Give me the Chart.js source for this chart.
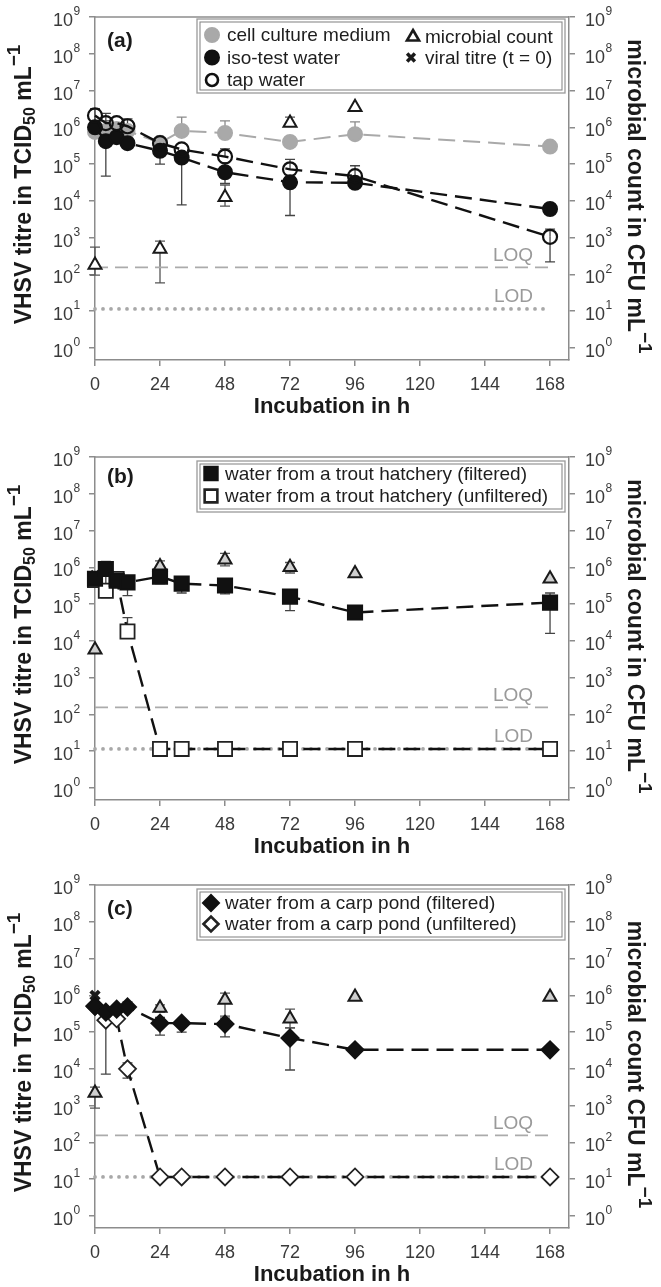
<!DOCTYPE html>
<html>
<head>
<meta charset="utf-8">
<script src="https://cdn.jsdelivr.net/npm/chart.js@4.4.1/dist/chart.umd.min.js"></script>
<style>
html,body{margin:0;padding:0;background:#fff;overflow:hidden;}
#wrap{position:relative;width:661px;height:1287px;}
canvas{position:absolute;left:0;}
</style>
</head>
<body>
<div id="wrap">
<canvas id="pa" width="661" height="430" style="top:0px"></canvas>
<canvas id="pb" width="661" height="430" style="top:440px"></canvas>
<canvas id="pc" width="661" height="419" style="top:868px"></canvas>
</div>
<script>
// ---------- shared data ----------
const hours = [0, 4, 8, 12, 24, 32, 48, 72, 96, 168];
const xTickValues = [0, 24, 48, 72, 96, 120, 144, 168];
const yTickValues = [1, 10, 100, 1e3, 1e4, 1e5, 1e6, 1e7, 1e8, 1e9];
const yTickExponents = ['0','1','2','3','4','5','6','7','8','9'];
const limitHours = [0, 168];
const loqLevel = 155;
const lodLevel = 11.5;
const viralHours = [0];

// ---------- panel (a) ----------
const cellCultureMedium = [7.5e5, 8e5, 9e5, 8e5, 3.8e5, 8e5, 7e5, 4e5, 6.5e5, 3e5];
const cellCultureHi     = [null, null, null, null, null, 1.9e6, 1.5e6, null, 1.4e6, null];
const cellCultureLo     = [null, null, null, null, null, null, null, null, null, null];
const isoTestWater      = [1.0e6, 4.2e5, 5.4e5, 3.7e5, 2.3e5, 1.5e5, 6e4, 3.2e4, 3.1e4, 6e3];
const isoTestHi         = [null, 1.5e6, null, null, 4e5, null, 1.1e5, null, null, null];
const isoTestLo         = [null, 4.7e4, null, null, 1e5, 7.8e3, 3e4, 4e3, null, null];
const tapWater          = [2.1e6, 1.3e6, 1.3e6, 1.07e6, 3.7e5, 2.5e5, 1.6e5, 7.2e4, 4.7e4, 1.05e3];
const tapWaterHi        = [3.2e6, 2.4e6, null, 1.7e6, null, null, 2.6e5, 1.35e5, 9e4, 1.7e3];
const tapWaterLo        = [1.2e6, null, null, null, null, null, null, null, null, 2.2e2];
const microbialHoursA   = [0, 24, 48, 72, 96];
const microbialA        = [180, 490, 1.26e4, 1.3e6, 3.5e6];
const microbialAHi      = [550, 800, 2.7e4, 1.9e6, null];
const microbialALo      = [95, 59, 7.2e3, null, null];
const viralA            = [1.0e6];

// ---------- panel (b) ----------
const troutFiltered     = [4.9e5, 9e5, 4.3e5, 3.9e5, 5.6e5, 3.6e5, 3.2e5, 1.6e5, 5.9e4, 1.1e5];
const troutFilteredHi   = [null, 1.45e6, null, null, 8e5, null, null, 2.3e5, null, 2e5];
const troutFilteredLo   = [null, null, null, 1.7e5, 3.6e5, 2e5, 1.9e5, 6.6e4, null, 1.6e4];
const troutUnfiltered   = [4.5e5, 2.3e5, 4.8e5, 1.8e4, 11.5, 11.5, 11.5, 11.5, 11.5, 11.5];
const troutUnfilteredHi = [null, 1.3e6, null, 4.3e4, null, null, null, null, null, null];
const troutUnfilteredLo = [null, 1.5e5, null, null, null, null, null, null, null, null];
const microbialHoursB   = [0, 24, 48, 72, 96, 168];
const microbialB        = [5.7e3, 1.05e6, 1.6e6, 1e6, 6.8e5, 4.9e5];
const microbialBHi      = [null, 1.5e6, 2.4e6, 1.35e6, null, null];
const microbialBLo      = [null, 7e5, 1.1e6, 7e5, null, null];
const viralB            = [6e5];

// ---------- panel (c) ----------
const carpFiltered      = [5.1e5, 3.5e5, 4.2e5, 4.8e5, 1.75e5, 1.75e5, 1.65e5, 6.9e4, 3.3e4, 3.3e4];
const carpFilteredHi    = [null, null, null, 6.6e5, 2.5e5, null, 2.4e5, 1.3e5, null, null];
const carpFilteredLo    = [null, null, null, null, 8.3e4, 1e5, 7.4e4, 9.3e3, null, null];
const carpUnfiltered    = [5e5, 2.1e5, 2.3e5, 1e4, 11.5, 11.5, 11.5, 11.5, 11.5, 11.5];
const carpUnfilteredHi  = [null, 3.5e5, null, 1.45e4, null, null, null, null, null, null];
const carpUnfilteredLo  = [null, 7.2e3, null, 5.6e3, null, null, null, null, null, null];
const microbialHoursC   = [0, 24, 48, 72, 96, 168];
const microbialC        = [2.2e3, 4.5e5, 7.4e5, 2.3e5, 9e5, 9e5];
const microbialCHi      = [3.2e3, 5.5e5, 1.15e6, 4.2e5, null, null];
const microbialCLo      = [850, 3.5e5, 2.7e5, 1.3e5, null, null];
const viralC            = [1.0e6];

// ---------- helpers ----------
const FONT = '"Liberation Sans", Arial, Helvetica, sans-serif';
Chart.defaults.font.family = FONT;
const AXIS_GRAY = '#8c8c8c';
const Y_MIN = 0.47, Y_MAX = 1e9, X_MIN = 0, X_MAX = 175;

function pts(xs, ys) { return xs.map((x, i) => ({x: x, y: ys[i]})); }

function drawRich(ctx, segs, cx, cy, rot, color) {
  ctx.save();
  ctx.translate(cx, cy);
  ctx.rotate(rot);
  ctx.fillStyle = color;
  let total = 0;
  segs.forEach(s => { ctx.font = s.font; s.w = ctx.measureText(s.t).width; total += s.w; });
  let x = -total / 2;
  ctx.textBaseline = 'middle';
  ctx.textAlign = 'left';
  segs.forEach(s => { ctx.font = s.font; ctx.fillText(s.t, x, s.dy || 0); x += s.w; });
  ctx.restore();
}

function lineDs(label, xs, ys, o) {
  return Object.assign({
    label: label, data: pts(xs, ys), showLine: true, clip: false,
    borderColor: '#111', borderWidth: 2.4, borderDash: [17, 8],
    pointRadius: 7, pointBorderWidth: 2, pointBorderColor: '#111', pointBackgroundColor: '#111',
    pointStyle: 'circle', tension: 0
  }, o || {});
}

function limitDatasets() {
  return [
    {label: 'LOQ', data: pts(limitHours, [loqLevel, loqLevel]), showLine: true, clip: false,
     borderColor: '#ababab', borderWidth: 1.8, borderDash: [13, 7], pointRadius: 0},
    {label: 'LOD', data: pts(limitHours, [lodLevel, lodLevel]), showLine: true, clip: false,
     borderColor: '#a8a8a8', borderWidth: 3.8, borderDash: [0, 8], borderCapStyle: 'round', pointRadius: 0}
  ];
}

function makePanel(id, cfg) {
  const canvas = document.getElementById(id);
  const H = canvas.height;
  const plotTop = 17, plotBottom = 360;
  const deco = {
    id: 'deco_' + id,
    beforeDatasetsDraw(chart) {
      const ctx = chart.ctx, ys = chart.scales.y;
      chart.data.datasets.forEach((ds, i) => {
        if (!ds.errHi && !ds.errLo) return;
        const meta = chart.getDatasetMeta(i);
        ctx.save();
        ctx.strokeStyle = ds.errColor || '#444';
        ctx.lineWidth = 1.3;
        ctx.setLineDash([]);
        meta.data.forEach((pt, j) => {
          [ds.errHi ? ds.errHi[j] : null, ds.errLo ? ds.errLo[j] : null].forEach(v => {
            if (v == null) return;
            const yy = ys.getPixelForValue(v);
            ctx.beginPath();
            ctx.moveTo(pt.x, pt.y); ctx.lineTo(pt.x, yy);
            ctx.moveTo(pt.x - 5, yy); ctx.lineTo(pt.x + 5, yy);
            ctx.stroke();
          });
        });
        ctx.restore();
      });
    },
    afterDraw(chart) {
      const ctx = chart.ctx, a = chart.chartArea;
      const ys = chart.scales.y, xs = chart.scales.x;
      // top frame
      ctx.save();
      ctx.strokeStyle = AXIS_GRAY; ctx.lineWidth = 1.5;
      ctx.beginPath(); ctx.moveTo(a.left, a.top); ctx.lineTo(a.right, a.top); ctx.stroke();
      ctx.restore();
      // y tick labels both sides
      ctx.save();
      ctx.fillStyle = '#3a3a3a';
      ctx.textBaseline = 'middle';
      yTickValues.forEach((v, i) => {
        const y = ys.getPixelForValue(v);
        ctx.font = '18px ' + FONT;
        const w10 = ctx.measureText('10').width;
        ctx.textAlign = 'left';
        ctx.fillText('10', 53, y + 4);
        ctx.fillText('10', 585, y + 4);
        ctx.font = '12px ' + FONT;
        ctx.fillText(yTickExponents[i], 53 + w10 + 0.5, y - 5);
        ctx.fillText(yTickExponents[i], 585 + w10 + 0.5, y - 5);
      });
      // x tick labels
      ctx.font = '18px ' + FONT;
      ctx.textAlign = 'center';
      xTickValues.forEach(v => {
        ctx.fillText(String(v), xs.getPixelForValue(v), a.bottom + 25);
      });
      ctx.restore();
      // axis titles
      const bold = s => 'bold ' + s + 'px ' + FONT;
      drawRich(ctx, [{t: 'Incubation in h', font: bold(22)}], (a.left + a.right) / 2, a.bottom + 47, 0, '#1a1a1a');
      drawRich(ctx, [
        {t: 'VHSV titre in TCID', font: bold(23)},
        {t: '50', font: bold(16), dy: 6},
        {t: ' mL', font: bold(23)},
        {t: '\u22121', font: bold(19), dy: -10}
      ], 25, (a.top + a.bottom) / 2 - 4, -Math.PI / 2, '#1a1a1a');
      drawRich(ctx, [
        {t: cfg.rightTitle, font: bold(23)},
        {t: '\u22121', font: bold(19), dy: -10}
      ], 634, (a.top + a.bottom) / 2 + 8, Math.PI / 2, '#1a1a1a');
      // panel label
      ctx.save();
      ctx.fillStyle = '#1a1a1a';
      ctx.font = bold(21);
      ctx.textAlign = 'left'; ctx.textBaseline = 'middle';
      ctx.fillText(cfg.panelLabel, 107, a.top + cfg.panelLabelDy);
      // LOQ / LOD labels
      ctx.fillStyle = '#9a9a9a';
      ctx.font = '19px ' + FONT;
      ctx.textAlign = 'right';
      ctx.fillText('LOQ', 533, ys.getPixelForValue(loqLevel) - 12);
      ctx.fillText('LOD', 533, ys.getPixelForValue(lodLevel) - 12);
      ctx.restore();
      // legend
      const L = cfg.legend;
      ctx.save();
      ctx.fillStyle = '#fff';
      ctx.fillRect(L.box[0], L.box[1], L.box[2] - L.box[0], L.box[3] - L.box[1]);
      ctx.strokeStyle = '#9a9a9a'; ctx.lineWidth = 1.3;
      ctx.strokeRect(L.box[0], L.box[1], L.box[2] - L.box[0], L.box[3] - L.box[1]);
      ctx.strokeStyle = '#8a8a8a'; ctx.lineWidth = 1.1;
      ctx.strokeRect(L.box[0] + 3, L.box[1] + 3, L.box[2] - L.box[0] - 6, L.box[3] - L.box[1] - 6);
      L.items.forEach(it => {
        const ds = chart.data.datasets[it.ds];
        ctx.fillStyle = it.fill || ds.pointBackgroundColor;
        ctx.strokeStyle = ds.pointBorderColor;
        ctx.lineWidth = it.bw || ds.pointBorderWidth;
        ctx.setLineDash([]);
        Chart.helpers.drawPoint(ctx, {pointStyle: ds.pointStyle, radius: it.r || ds.pointRadius, rotation: 0, borderWidth: ctx.lineWidth}, it.mx, it.my);
        ctx.fillStyle = '#1e1e1e';
        ctx.font = '19px ' + FONT;
        ctx.textAlign = 'left'; ctx.textBaseline = 'middle';
        ctx.fillText(ds.label, it.tx, it.my + 1);
      });
      ctx.restore();
    }
  };
  return new Chart(canvas, {
    type: 'scatter',
    data: {datasets: cfg.datasets},
    options: {
      responsive: false, animation: false,
      layout: {padding: {top: plotTop, left: 0, right: 0, bottom: 0}},
      plugins: {legend: {display: false}, tooltip: {enabled: false}},
      scales: {
        x: {
          type: 'linear', min: X_MIN, max: X_MAX, position: 'bottom',
          afterBuildTicks: s => { s.ticks = xTickValues.map(v => ({value: v})); },
          afterFit: s => { s.height = H - plotBottom; },
          ticks: {display: false},
          grid: {drawOnChartArea: false, drawTicks: true, tickLength: 6, color: AXIS_GRAY, lineWidth: 1.5},
          border: {display: true, color: AXIS_GRAY, width: 1.5}
        },
        y: {
          type: 'logarithmic', min: Y_MIN, max: Y_MAX, position: 'left',
          afterBuildTicks: s => { s.ticks = yTickValues.map(v => ({value: v})); },
          afterFit: s => { s.width = 95; },
          ticks: {display: false},
          grid: {drawOnChartArea: false, drawTicks: true, tickLength: 6, color: AXIS_GRAY, lineWidth: 1.5},
          border: {display: true, color: AXIS_GRAY, width: 1.5}
        },
        y2: {
          type: 'logarithmic', min: Y_MIN, max: Y_MAX, position: 'right',
          afterBuildTicks: s => { s.ticks = yTickValues.map(v => ({value: v})); },
          afterFit: s => { s.width = 92; },
          ticks: {display: false},
          grid: {drawOnChartArea: false, drawTicks: true, tickLength: 6, color: AXIS_GRAY, lineWidth: 1.5},
          border: {display: true, color: AXIS_GRAY, width: 1.5}
        }
      }
    },
    plugins: [deco]
  });
}

function microbialDs(xs, ys, hi, lo, fill) {
  return {label: 'microbial count', data: pts(xs, ys), showLine: false, clip: false,
    pointStyle: 'triangle', pointRadius: 7.5, pointBorderWidth: 2, pointBorderColor: '#1a1a1a',
    pointBackgroundColor: fill, errHi: hi, errLo: lo, errColor: '#555'};
}
function viralDs(ys) {
  return {label: 'viral titre (t = 0)', data: pts(viralHours, ys), showLine: false, clip: false,
    pointStyle: 'crossRot', pointRadius: 6, pointBorderWidth: 4, pointBorderColor: '#1a1a1a',
    pointBackgroundColor: '#1a1a1a'};
}

// ---------- panel (a) ----------
makePanel('pa', {
  panelLabel: '(a)', panelLabelDy: 24, rightTitle: 'microbial count in CFU mL',
  datasets: [
    lineDs('tap water', hours, tapWater, {pointBackgroundColor: 'rgba(255,255,255,0)', pointBorderWidth: 2.2,
      errHi: tapWaterHi, errLo: tapWaterLo, errColor: '#444'}),
    lineDs('iso-test water', hours, isoTestWater, {errHi: isoTestHi, errLo: isoTestLo, errColor: '#444'}),
    lineDs('cell culture medium', hours, cellCultureMedium, {borderColor: '#a9a9a9', borderWidth: 2,
      pointBorderColor: '#a9a9a9', pointBackgroundColor: '#a9a9a9', errHi: cellCultureHi, errLo: cellCultureLo, errColor: '#8a8a8a'}),
    microbialDs(microbialHoursA, microbialA, microbialAHi, microbialALo, '#ffffff'),
    ...limitDatasets(),
    viralDs(viralA)
  ],
  legend: {
    box: [197, 19, 565, 93],
    items: [
      {ds: 2, mx: 212, my: 35, tx: 227},
      {ds: 1, mx: 212, my: 57.5, tx: 227},
      {ds: 0, mx: 212, my: 80, tx: 227, r: 6, bw: 2.6, fill: '#fff'},
      {ds: 3, mx: 413, my: 37, tx: 425, r: 7, bw: 2.6},
      {ds: 6, mx: 411, my: 57.5, tx: 425, r: 5.5, bw: 3.5}
    ]
  }
});

// ---------- panel (b) ----------
makePanel('pb', {
  panelLabel: '(b)', panelLabelDy: 20, rightTitle: 'microbial count in CFU mL',
  datasets: [
    lineDs('water from a trout hatchery (filtered)', hours, troutFiltered, {pointStyle: 'rect', pointRadius: 10,
      errHi: troutFilteredHi, errLo: troutFilteredLo, errColor: '#444'}),
    lineDs('water from a trout hatchery (unfiltered)', hours, troutUnfiltered, {pointStyle: 'rect', pointRadius: 10,
      pointBackgroundColor: '#fff', pointBorderColor: '#222', pointBorderWidth: 1.8,
      errHi: troutUnfilteredHi, errLo: troutUnfilteredLo, errColor: '#444'}),
    microbialDs(microbialHoursB, microbialB, microbialBHi, microbialBLo, '#cfcfcf'),
    ...limitDatasets(),
    viralDs(viralB)
  ],
  legend: {
    box: [197, 21, 565, 72],
    items: [
      {ds: 0, mx: 211, my: 33.5, tx: 225, r: 9.5},
      {ds: 1, mx: 211, my: 56, tx: 225, r: 9, bw: 2.6}
    ]
  }
});

// ---------- panel (c) ----------
makePanel('pc', {
  panelLabel: '(c)', panelLabelDy: 24, rightTitle: 'microbial count CFU mL',
  datasets: [
    lineDs('water from a carp pond (filtered)', hours, carpFiltered, {pointStyle: 'rectRot', pointRadius: 8.5,
      errHi: carpFilteredHi, errLo: carpFilteredLo, errColor: '#444'}),
    lineDs('water from a carp pond (unfiltered)', hours, carpUnfiltered, {pointStyle: 'rectRot', pointRadius: 8.5,
      pointBackgroundColor: '#fff', pointBorderColor: '#222', pointBorderWidth: 1.8,
      errHi: carpUnfilteredHi, errLo: carpUnfilteredLo, errColor: '#444'}),
    microbialDs(microbialHoursC, microbialC, microbialCHi, microbialCLo, '#cfcfcf'),
    ...limitDatasets(),
    viralDs(viralC)
  ],
  legend: {
    box: [197, 21, 565, 72],
    items: [
      {ds: 0, mx: 211, my: 35, tx: 225, r: 8},
      {ds: 1, mx: 211, my: 56, tx: 225, r: 7.5, bw: 2.6}
    ]
  }
});
</script>
</body>
</html>
